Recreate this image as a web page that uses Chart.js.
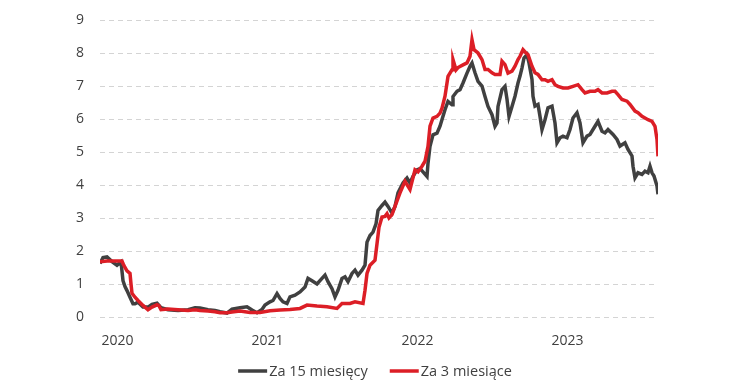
<!DOCTYPE html>
<html>
<head>
<meta charset="utf-8">
<script src="https://cdn.jsdelivr.net/npm/chart.js@4"></script>
<style>
  html, body { margin: 0; padding: 0; background: #fff; }
  #wrap { width: 750px; height: 389px; }
</style>
</head>
<body>
<div id="wrap"><canvas id="chart" width="750" height="389"></canvas></div>
<script>
// x = months since start of 2020
const yearLabels = ['2020', '2021', '2022', '2023'];
const yearTicks = [1.4, 13.4, 25.4, 37.4];

const t15 = [0, 0.24, 0.56, 0.96, 1.36, 1.68, 1.84, 2.0, 2.16, 2.4, 2.64, 2.8, 3.04, 3.44, 3.84, 4.16, 4.56, 4.88,
  5.44, 6.24, 7.04, 7.6, 8.0, 8.64, 9.2, 9.6, 10.16, 10.56, 11.2, 11.76, 12.16, 12.56, 12.96, 13.2, 13.6, 13.84,
  14.16, 14.4, 14.64, 14.96, 15.2, 15.6, 16.0, 16.4, 16.64, 16.96, 17.36, 17.76, 18.0, 18.24, 18.56, 18.8, 19.04,
  19.36, 19.6, 19.84, 20.16, 20.4, 20.64, 20.96, 21.2, 21.36, 21.6, 21.84, 22.08, 22.24, 22.56, 22.8, 23.04, 23.36,
  23.6, 23.84, 24.24, 24.56, 24.8, 25.04, 25.36, 25.6, 25.84, 26.16, 26.24, 26.4, 26.64, 26.96, 27.2, 27.44, 27.6,
  27.84, 28.16, 28.24, 28.56, 28.8, 29.04, 29.36, 29.6, 29.76, 30.0, 30.24, 30.56, 30.8, 31.04, 31.36, 31.6, 31.76,
  31.84, 32.16, 32.4, 32.56, 32.72, 32.96, 33.2, 33.44, 33.6, 33.76, 33.92, 34.16, 34.32, 34.56, 34.64, 34.8, 35.04,
  35.2, 35.36, 35.6, 35.84, 36.16, 36.4, 36.56, 36.8, 37.04, 37.36, 37.6, 37.84, 38.16, 38.4, 38.64, 38.96, 39.2,
  39.6, 39.84, 40.16, 40.4, 40.64, 41.04, 41.36, 41.6, 42.0, 42.24, 42.56, 42.64, 42.8, 43.04, 43.36, 43.6, 43.84,
  44.0, 44.16, 44.32, 44.56, 44.64];
const v15 = [1.62, 1.8, 1.82, 1.68, 1.57, 1.67, 1.1, 0.92, 0.8, 0.6, 0.4, 0.4, 0.45, 0.3, 0.3, 0.38, 0.42, 0.28,
  0.22, 0.2, 0.22, 0.28, 0.27, 0.22, 0.2, 0.16, 0.12, 0.24, 0.28, 0.31, 0.21, 0.13, 0.23, 0.36, 0.46, 0.5,
  0.71, 0.56, 0.46, 0.41, 0.61, 0.66, 0.76, 0.91, 1.17, 1.1, 1.0, 1.17, 1.27, 1.07, 0.86, 0.61, 0.81,
  1.17, 1.22, 1.07, 1.32, 1.42, 1.27, 1.42, 1.57, 2.27, 2.47, 2.57, 2.82, 3.23, 3.38, 3.48, 3.35, 3.15,
  3.35, 3.76, 4.06, 4.21, 4.06, 4.26, 4.46, 4.5, 4.4, 4.26, 4.66, 5.17, 5.52, 5.57, 5.78, 6.08, 6.28,
  6.53, 6.43, 6.68, 6.84, 6.89, 7.09, 7.39, 7.6, 7.7, 7.4, 7.14, 7.0, 6.68, 6.38, 6.13, 5.78, 5.88,
  6.38, 6.89, 6.99, 6.6, 6.08, 6.38, 6.69, 7.09, 7.3, 7.55, 7.85, 7.95, 7.7, 7.2, 6.69, 6.39, 6.44,
  6.08, 5.68, 5.98, 6.34, 6.39, 5.88, 5.28, 5.43, 5.48, 5.43, 5.68, 6.03, 6.19, 5.88, 5.28, 5.48, 5.53,
  5.78, 5.93, 5.63, 5.58, 5.68, 5.53, 5.38, 5.18, 5.28, 5.08, 4.88, 4.57, 4.22, 4.37, 4.32, 4.42, 4.37,
  4.57, 4.37, 4.27, 3.97, 3.72];

const t3 = [0, 0.56, 0.96, 1.36, 1.76, 1.84, 2.0, 2.16, 2.4, 2.48, 2.56, 2.8, 3.04, 3.44, 3.84, 4.16, 4.56, 4.72,
  4.88, 5.44, 6.24, 7.04, 7.6, 8.0, 8.64, 9.2, 9.6, 10.16, 10.56, 11.2, 12.0, 12.8, 13.6, 14.4, 15.2, 16.0, 16.56,
  17.36, 18.16, 18.96, 19.36, 20.0, 20.4, 21.04, 21.2, 21.36, 21.6, 22.0, 22.16, 22.32, 22.56, 22.8, 22.96, 23.12,
  23.36, 23.6, 24.0, 24.4, 24.8, 25.2, 25.44, 25.76, 26.0, 26.24, 26.4, 26.64, 26.96, 27.2, 27.36, 27.6, 27.84,
  28.16, 28.24, 28.48, 28.64, 29.04, 29.36, 29.6, 29.76, 29.92, 30.24, 30.56, 30.8, 31.04, 31.36, 31.6, 32.0,
  32.16, 32.4, 32.64, 32.96, 33.2, 33.44, 33.6, 33.84, 34.08, 34.24, 34.56, 34.8, 35.04, 35.36, 35.6, 35.84,
  36.16, 36.4, 36.64, 37.04, 37.44, 37.84, 38.24, 38.56, 38.8, 39.2, 39.6, 39.84, 40.16, 40.56, 40.96, 41.2,
  41.44, 41.76, 42.16, 42.4, 42.8, 43.04, 43.36, 43.6, 43.84, 44.16, 44.4, 44.56, 44.64];
const v3 = [1.67, 1.7, 1.7, 1.7, 1.7, 1.62, 1.5, 1.4, 1.32, 1.0, 0.72, 0.6, 0.5, 0.35, 0.22, 0.3, 0.37, 0.34,
  0.22, 0.24, 0.22, 0.2, 0.22, 0.2, 0.18, 0.16, 0.13, 0.13, 0.15, 0.18, 0.14, 0.14, 0.19, 0.21, 0.23, 0.26, 0.36,
  0.33, 0.31, 0.26, 0.41, 0.41, 0.46, 0.41, 0.81, 1.32, 1.57, 1.72, 2.22, 2.72, 3.03, 3.05, 3.13, 3.0,
  3.1, 3.35, 3.76, 4.11, 3.86, 4.46, 4.4, 4.57, 4.72, 5.17, 5.78, 6.03, 6.08, 6.18, 6.33, 6.69, 7.29,
  7.49, 7.8, 7.49, 7.56, 7.64, 7.7, 7.9, 8.4, 8.1, 8.0, 7.8, 7.5, 7.5, 7.4, 7.35, 7.35,
  7.75, 7.65, 7.39, 7.45, 7.6, 7.8, 7.9, 8.1, 8.0, 7.95, 7.6, 7.4, 7.35, 7.19, 7.19, 7.14,
  7.19, 7.04, 6.99, 6.94, 6.94, 6.99, 7.04, 6.89, 6.79, 6.84, 6.84, 6.89, 6.79, 6.79, 6.84, 6.84,
  6.74, 6.59, 6.54, 6.44, 6.24, 6.19, 6.08, 6.03, 5.98, 5.93, 5.78, 5.38, 4.87];

const toPoints = (ts, vs) => ts.map((t, i) => ({ x: t, y: vs[i] }));

Chart.defaults.font.family = "'Open Sans', sans-serif";
Chart.defaults.font.size = 14;
Chart.defaults.color = '#404040';

// legend centred under the whole picture, line sample right before the text
const bottomLegend = {
  id: 'bottomLegend',
  afterDraw(chart) {
    const ctx = chart.ctx;
    const sample = 29, textGap = 2, itemGap = 22, y = 371;
    ctx.save();
    ctx.font = "14.5px 'Open Sans', sans-serif";
    const items = chart.data.datasets.map(ds => ({
      text: ds.label, color: ds.borderColor, w: ctx.measureText(ds.label).width
    }));
    const total = items.reduce((s, it) => s + sample + textGap + it.w, 0) + itemGap * (items.length - 1);
    let x = chart.width / 2 - total / 2;
    items.forEach(it => {
      ctx.strokeStyle = it.color;
      ctx.lineWidth = 3.5;
      ctx.beginPath();
      ctx.moveTo(x, y);
      ctx.lineTo(x + sample, y);
      ctx.stroke();
      x += sample + textGap;
      ctx.fillStyle = '#404040';
      ctx.textBaseline = 'middle';
      ctx.fillText(it.text, x, y + 1);
      x += it.w + itemGap;
    });
    ctx.restore();
  }
};

new Chart(document.getElementById('chart'), {
  type: 'line',
  data: {
    datasets: [
      {
        label: 'Za 15 miesięcy',
        data: toPoints(t15, v15),
        borderColor: '#404040',
        backgroundColor: '#404040',
        borderWidth: 3.5,
        pointRadius: 0,
        order: 1
      },
      {
        label: 'Za 3 miesiące',
        data: toPoints(t3, v3),
        borderColor: '#dc1e26',
        backgroundColor: '#dc1e26',
        borderWidth: 3.5,
        pointRadius: 0,
        order: 0
      }
    ]
  },
  plugins: [bottomLegend],
  options: {
    responsive: false,
    animation: false,
    layout: { padding: { left: 60, right: 92, top: 20, bottom: 0 } },
    plugins: {
      tooltip: { enabled: false },
      legend: { display: false }
    },
    scales: {
      x: {
        type: 'linear',
        min: 0,
        max: 44.64,
        grid: { display: false },
        border: { display: false },
        afterBuildTicks: (s) => { s.ticks = yearTicks.map(v => ({ value: v })); },
        afterFit: (s) => { s.height = 72; s.paddingLeft = 0; s.paddingRight = 0; },
        ticks: {
          padding: 7.5,
          maxRotation: 0,
          callback: (v) => yearLabels[yearTicks.indexOf(v)]
        }
      },
      y: {
        min: 0,
        max: 9,
        ticks: { stepSize: 1, padding: 16 },
        grid: { color: '#d4d4d4', drawTicks: false },
        border: { display: false, dash: [5, 4] },
        afterFit: (s) => { s.width = 40; s.paddingTop = 0; s.paddingBottom = 0; }
      }
    }
  }
});
</script>
</body>
</html>
